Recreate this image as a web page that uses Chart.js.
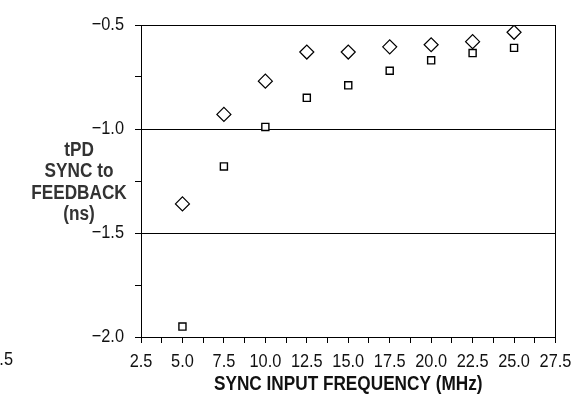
<!DOCTYPE html>
<html>
<head>
<meta charset="utf-8">
<script src="https://cdn.jsdelivr.net/npm/chart.js@4/dist/chart.umd.min.js"></script>
<style>
  body { margin: 0; background: #fff; }
  #wrap { width: 581px; height: 397px; }
</style>
</head>
<body>
<div id="wrap"><canvas id="myGrafico" width="581" height="397"></canvas></div>
<script>
// frequencias (MHz) e atrasos tPD (ns)
const frequencias = [5.0, 7.5, 10.0, 12.5, 15.0, 17.5, 20.0, 22.5, 25.0]
const serieLosango = [-1.36, -0.93, -0.77, -0.63, -0.63, -0.605, -0.595, -0.58, -0.535]
const serieQuadrado = [-1.95, -1.18, -0.99, -0.85, -0.79, -0.72, -0.67, -0.635, -0.61]
const ticksY = [-2.0, -1.5, -1.0, -0.5]
const ticksX = [2.5, 5.0, 7.5, 10.0, 12.5, 15.0, 17.5, 20.0, 22.5, 25.0, 27.5]
const tituloY = ['tPD', 'SYNC to', 'FEEDBACK', '(ns)']
const tituloX = 'SYNC INPUT FREQUENCY (MHz)'

const fonte = "'Liberation Sans', Arial, sans-serif"

function pontos(ys) {
    return frequencias.map((f, i) => ({ x: f, y: ys[i] }))
}

function ehMajor(v, passo) {
    return Math.abs(v / passo - Math.round(v / passo)) < 1e-6
}

// titulo do eixo Y em varias linhas, na horizontal
const pluginTextos = {
    id: 'textos',
    afterDraw(chart) {
        const c = chart.ctx
        c.save()
        c.fillStyle = '#333'
        c.font = 'bold 20px ' + fonte
        c.textAlign = 'center'
        c.textBaseline = 'middle'
        tituloY.forEach((t, i) => c.fillText(t, 79, 150 + i * 21.5))
        // pedaco do grafico vizinho
        c.font = '19px ' + fonte
        c.fillStyle = '#111'
        c.textAlign = 'right'
        c.fillText('2.5', 13, 360)
        c.restore()
    }
}

const ctx = document.getElementById('myGrafico')

// fonte estreita (tipo Arial Narrow): achata o texto na horizontal
const c2d = ctx.getContext('2d')
const fillTextOriginal = c2d.fillText
c2d.fillText = function(texto, x, y, maxW) {
    this.save()
    this.translate(x, y)
    this.scale(0.86, 1)
    fillTextOriginal.call(this, texto, 0, 0)
    this.restore()
}

new Chart(ctx, {
    type: 'scatter',
    data: {
        datasets: [{
            data: pontos(serieLosango),
            pointStyle: 'rectRot',
            pointRadius: 7,
            borderWidth: 1.2,
            borderColor: '#000',
            backgroundColor: '#fff'
        }, {
            data: pontos(serieQuadrado),
            pointStyle: 'rect',
            pointRadius: 5,
            borderWidth: 1.4,
            borderColor: '#000',
            backgroundColor: '#fff'
        }]
    },
    options: {
        responsive: false,
        animation: false,
        devicePixelRatio: 1,
        layout: { padding: { top: 25, right: 25, left: 0, bottom: 0 } },
        plugins: { legend: { display: false }, tooltip: { enabled: false } },
        scales: {
            x: {
                type: 'linear',
                min: ticksX[0],
                max: ticksX[ticksX.length - 1],
                afterFit(scale) { scale.height = 60 },
                border: { color: '#000', width: 1 },
                grid: {
                    color: c => (c.tick && Math.abs(c.tick.value - 27.5) < 1e-6) ? '#000' : 'rgba(0,0,0,0)',
                    tickColor: '#000',
                    tickLength: 6
                },
                ticks: {
                    stepSize: 1.25,
                    autoSkip: false,
                    maxRotation: 0,
                    padding: 7,
                    color: '#111',
                    font: { family: fonte, size: 19 },
                    callback: v => ticksX.some(t => Math.abs(t - v) < 1e-6) ? v.toFixed(1) : ''
                },
                title: {
                    display: true,
                    text: tituloX,
                    color: '#111',
                    font: { family: fonte, size: 20, weight: 'bold' },
                    padding: { top: 0, bottom: 1 }
                }
            },
            y: {
                type: 'linear',
                min: ticksY[0],
                max: ticksY[ticksY.length - 1],
                afterFit(scale) { scale.width = 141 },
                border: { color: '#000', width: 1 },
                grid: {
                    color: c => (c.tick && ehMajor(c.tick.value, 0.5)) ? '#000' : 'rgba(0,0,0,0)',
                    tickColor: '#000',
                    tickLength: 6
                },
                ticks: {
                    stepSize: 0.25,
                    autoSkip: false,
                    padding: 11,
                    color: '#111',
                    font: { family: fonte, size: 19 },
                    callback: v => ehMajor(v, 0.5) ? v.toFixed(1).replace('-', '\u2212') : ''
                }
            }
        }
    },
    plugins: [pluginTextos]
})
</script>
</body>
</html>
